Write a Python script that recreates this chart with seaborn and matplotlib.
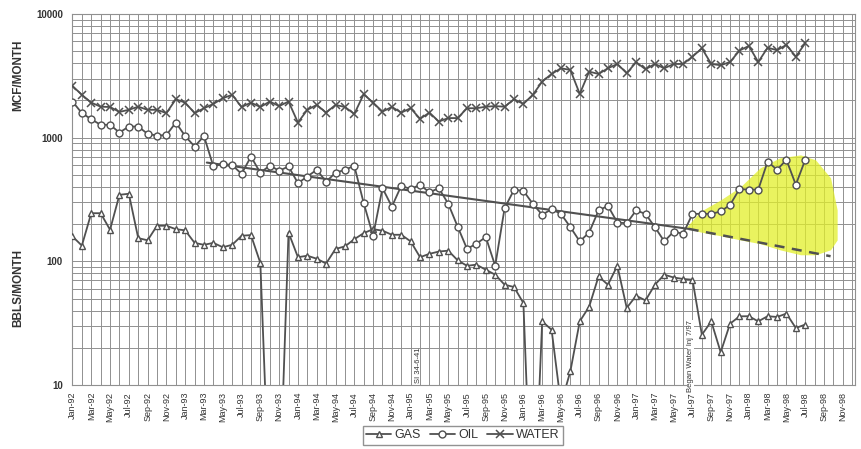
import numpy as np
import pandas as pd
import matplotlib
matplotlib.use('Agg')
import matplotlib.pyplot as plt
import seaborn as sns
from matplotlib.ticker import MultipleLocator, FixedLocator, LogLocator, FuncFormatter, NullFormatter
from matplotlib.transforms import blended_transform_factory

sns.set_theme(style='white')
plt.rcParams['font.family'] = ['Liberation Sans', 'DejaVu Sans']

# month index 0 = Jan-92
months = np.arange(79)

gas = [159, 134, 245, 245, 180, 345, 352, 154, 148, 194,
       194, 182, 178, 141, 136, 141, 130, 136, 161, 163,
       97, 1, 1, 171, 108, 111, 105, 96, 126, 132,
       151, 169, 182, 177, 164, 164, 145, 108, 115, 120,
       122, 102, 92, 94, 85.5, 78, 64.7, 62, 46, 0.5,
       32.7, 28, 7, 12.9, 32.7, 43, 75.5, 64.7, 92, 42,
       52.7, 48.3, 64.7, 78, 74, 72, 71, 25.5, 32.7, 18.4,
       31.3, 35.9, 36, 32.7, 36, 35.5, 37.8, 28.9, 30.8]

oil = [1960, 1580, 1410, 1270, 1270, 1100, 1230, 1230, 1073, 1040,
       1050, 1325, 1030, 848, 1030, 585, 614, 600, 510, 703,
       520, 595, 540, 585, 429, 485, 550, 441, 520, 550,
       592, 296, 161, 391, 277, 408, 384, 416, 361, 391,
       292, 191, 126, 139, 157, 92, 269, 378, 372, 292,
       238, 264, 242, 189, 145, 171, 258, 281, 206, 203,
       258, 242, 189, 145, 174, 167, 242, 242, 242, 253,
       286, 384, 380, 380, 641, 550, 662, 416, 662]

water = [2620, 2220, 1920, 1780, 1770, 1615, 1680, 1780, 1680, 1680,
         1580, 2045, 1920, 1580, 1730, 1875, 2085, 2220, 1770, 1920,
         1770, 1960, 1800, 1960, 1325, 1680, 1840, 1595, 1840, 1770,
         1555, 2245, 1920, 1625, 1770, 1595, 1730, 1420, 1595, 1350,
         1440, 1440, 1730, 1730, 1780, 1800, 1780, 2045, 1875, 2220,
         2840, 3275, 3640, 3530, 2260, 3420, 3275, 3640, 3945, 3320,
         4075, 3575, 3945, 3640, 3945, 3945, 4520, 5280, 3945, 3850,
         4090, 5060, 5520, 4090, 5340, 5100, 5625, 4520, 5800]

# oil decline trend and its forecast extension
trend_m = [14.3, 65.6]
trend_v = [629, 183]
forecast_m = [65.6, 80.7]
forecast_v = [183, 110]

# hand highlighted area (waterflood response)
hl_m = [65.3, 66.8, 69.0, 71.1, 73.2, 75.3, 77.5, 79.1, 80.7, 81.4]
hl_top = [187, 252, 314, 400, 570, 687, 726, 662, 473, 261]
hl_bottom = [187, 173, 161, 149, 139, 124, 113, 113, 124, 149]

tick_pos = np.arange(0, 83, 2)
tick_labels = pd.date_range('1992-01-01', periods=len(tick_pos), freq='2MS').strftime('%b-%y')

line_c = '#505050'
grid_c = '#909090'
text_c = '#333333'

fig = plt.figure(figsize=(8.62, 4.49), dpi=100)
ax = fig.add_axes([72 / 862, 1 - 385 / 449, 783 / 862, 371 / 449])
ax.set_yscale('log')

ax.fill_between(hl_m, hl_bottom, hl_top, color='#e2ef2a', alpha=0.75, lw=0, zorder=1.5)

sns.lineplot(x=months, y=gas, ax=ax, color=line_c, marker='^', markersize=5,
             markerfacecolor='white', markeredgecolor=line_c, markeredgewidth=1,
             linewidth=1.3, label='GAS', zorder=3)
sns.lineplot(x=months, y=oil, ax=ax, color=line_c, marker='o', markersize=5,
             markerfacecolor='white', markeredgecolor=line_c, markeredgewidth=1,
             linewidth=1.3, label='OIL', zorder=3)
sns.lineplot(x=months, y=water, ax=ax, color=line_c, marker='x', markersize=5.5,
             markeredgecolor=line_c, markeredgewidth=1.1,
             linewidth=1.3, label='WATER', zorder=3)

ax.plot(trend_m, trend_v, color=line_c, lw=1.5, zorder=2.5)
ax.plot(forecast_m, forecast_v, color=line_c, lw=1.8, ls=(0, (4, 3)), zorder=2.5)

ax.set_xlim(-0.05, 83.3)
ax.set_ylim(10, 10000)

ax.xaxis.set_major_locator(FixedLocator(tick_pos))
ax.xaxis.set_minor_locator(MultipleLocator(1))
ax.set_xticklabels(tick_labels, rotation=90, fontsize=6.5, color=text_c)
ax.yaxis.set_major_locator(FixedLocator([10, 100, 1000, 10000]))
ax.yaxis.set_minor_locator(LogLocator(base=10, subs=np.arange(2, 10)))
ax.yaxis.set_major_formatter(FuncFormatter(lambda v, _: f'{int(v)}'))
ax.yaxis.set_minor_formatter(NullFormatter())
ax.tick_params(axis='y', labelsize=7, colors=text_c, length=3, width=0.6)
ax.tick_params(axis='x', which='both', length=3, width=0.6, color=grid_c, pad=2)
ax.tick_params(axis='y', which='minor', length=0)
for lab in ax.get_yticklabels():
    lab.set_fontweight('bold')

ax.grid(True, which='both', axis='both', color=grid_c, lw=0.7)
ax.set_axisbelow(True)
for sp in ax.spines.values():
    sp.set_color(grid_c)
    sp.set_linewidth(0.8)
ax.set_xlabel('')
ax.set_ylabel('')

tr = blended_transform_factory(ax.transData, ax.transAxes)
ax.text(36.8, 0.005, 'SI 34-6-41', rotation=90, fontsize=5.5, color=text_c,
        ha='center', va='bottom', transform=tr)
ax.text(65.8, -0.02, 'Began Water Inj 7/97', rotation=90, fontsize=5.5, color=text_c,
        ha='center', va='bottom', transform=tr, zorder=4,
        bbox=dict(facecolor='white', edgecolor='none', pad=0.3))

fig.text(18 / 862, 1 - 75 / 449, 'MCF/MONTH', rotation=90, fontsize=8.5,
         fontweight='bold', color=text_c, ha='center', va='center')
fig.text(18 / 862, 1 - 288 / 449, 'BBLS/MONTH', rotation=90, fontsize=8.5,
         fontweight='bold', color=text_c, ha='center', va='center')

handles, labels = ax.get_legend_handles_labels()
ax.get_legend().remove()
fig.legend(handles, labels, loc='center', bbox_to_anchor=(463 / 862, 1 - 435.5 / 449),
           ncol=3, frameon=True, fancybox=False, edgecolor='#777777', fontsize=9,
           handlelength=2.0, columnspacing=0.7, handletextpad=0.3, borderpad=0.25,
           labelcolor=text_c)

fig.savefig('out.png', dpi=100, facecolor='white')
